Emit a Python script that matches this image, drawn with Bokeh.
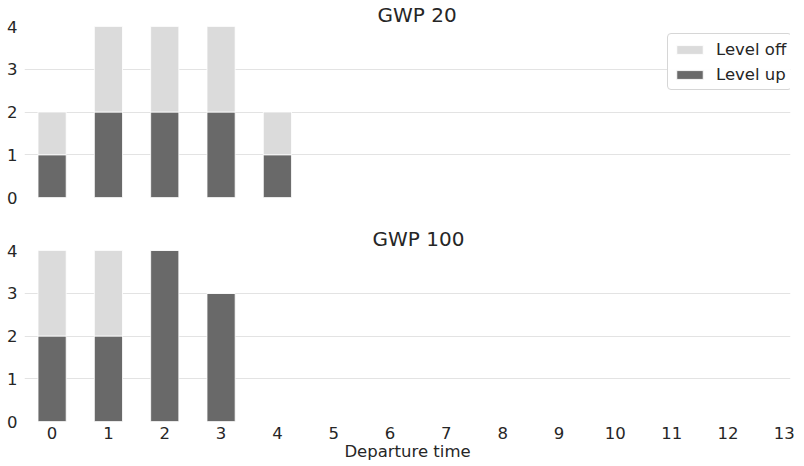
from bokeh.plotting import figure
from bokeh.layouts import column
from bokeh.models import ColumnDataSource, FixedTicker, Legend, LegendItem, Range1d
from bokeh.embed import file_html
from bokeh.resources import INLINE

times = list(range(14))
tick_labels = [str(t) for t in times]
gwp20_up = [1, 2, 2, 2, 1, 0, 0, 0, 0, 0, 0, 0, 0, 0]
gwp20_off = [1, 2, 2, 2, 1, 0, 0, 0, 0, 0, 0, 0, 0, 0]
gwp100_up = [2, 2, 4, 3, 0, 0, 0, 0, 0, 0, 0, 0, 0, 0]
gwp100_off = [2, 2, 0, 0, 0, 0, 0, 0, 0, 0, 0, 0, 0, 0]

C_OFF = "#dbdbdb"
C_UP = "#696969"
TXT = "#262626"
FONT = "DejaVu Sans"


def make(title, title_off, up, off, show_x, legend, top_border, bottom_border):
    src = ColumnDataSource(dict(t=times, up=up, off=off))
    p = figure(frame_width=766, frame_height=171, output_backend="svg", toolbar_location=None,
               x_range=Range1d(-0.49, 13.11), y_range=Range1d(0, 4.0),
               min_border_left=24, min_border_right=6, min_border_top=top_border,
               min_border_bottom=bottom_border)
    p.title.text = title
    p.title.align = "left"
    p.title.offset = title_off
    p.title.text_font = FONT
    p.title.text_font_size = "20px"
    p.title.text_font_style = "normal"
    p.title.text_color = TXT
    p.title.standoff = 0
    rs = p.vbar_stack(["up", "off"], x="t", width=0.5, source=src,
                      color=[C_UP, C_OFF], line_color="white", line_width=0.8)
    p.outline_line_color = None
    p.xgrid.grid_line_color = None
    p.ygrid.grid_line_color = "#e3e3e3"
    p.ygrid.grid_line_width = 1.2
    for ax in (p.xaxis, p.yaxis):
        ax.axis_line_color = None
        ax.major_tick_line_color = None
        ax.minor_tick_line_color = None
        ax.major_tick_out = 0
        ax.major_tick_in = 0
        ax.minor_tick_out = 0
        ax.minor_tick_in = 0
        ax.major_label_text_font = FONT
        ax.major_label_text_font_size = "16.5px"
        ax.major_label_text_color = TXT
    p.yaxis.ticker = FixedTicker(ticks=[0, 1, 2, 3, 4])
    p.yaxis.major_label_standoff = 7
    p.xaxis.ticker = FixedTicker(ticks=times)
    p.xaxis.major_label_overrides = {t: lab for t, lab in zip(times, tick_labels)}
    p.xaxis.major_label_standoff = 5
    if show_x:
        p.xaxis.axis_label = "Departure time"
        p.xaxis.axis_label_text_font = FONT
        p.xaxis.axis_label_text_font_size = "16.5px"
        p.xaxis.axis_label_text_font_style = "normal"
        p.xaxis.axis_label_text_color = TXT
        p.xaxis.axis_label_standoff = 0
    else:
        p.xaxis.visible = False
    if legend:
        lg = Legend(items=[LegendItem(label="Level off", renderers=[rs[1]]),
                           LegendItem(label="Level up", renderers=[rs[0]])],
                    location=(643, 107))
        lg.label_text_font = FONT
        lg.label_text_font_size = "16.5px"
        lg.label_text_color = TXT
        lg.label_height = 20
        lg.glyph_width = 33
        lg.glyph_height = 11
        lg.spacing = 5
        lg.padding = 5
        lg.margin = 0
        lg.border_line_color = "#d6d6d6"
        lg.border_line_alpha = 1
        lg.label_standoff = 10
        if "border_radius" in lg.properties():
            lg.border_radius = 4
        p.add_layout(lg)
    return p


p1 = make("GWP 20", 353, gwp20_up, gwp20_off, False, True, 19, 27)
p2 = make("GWP 100", 348, gwp100_up, gwp100_off, True, False, 26, 36)
layout = column(p1, p2, spacing=0)
open("out.html", "w").write(file_html(layout, INLINE))
